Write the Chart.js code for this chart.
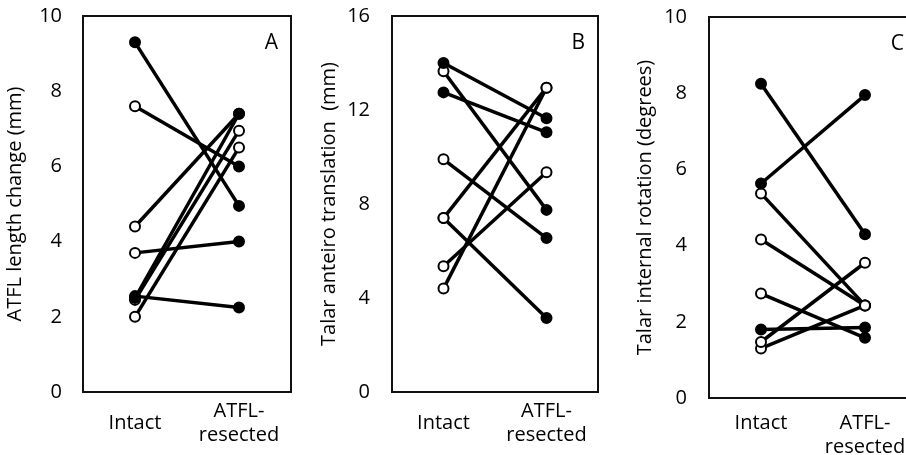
<!DOCTYPE html>
<html><head><meta charset="utf-8">
<script src="https://cdn.jsdelivr.net/npm/chart.js@4.4.1/dist/chart.umd.min.js"></script>
<style>
html,body{margin:0;padding:0;background:#fff;overflow:hidden;width:906px;height:455px;position:relative;}
canvas{position:absolute;top:0;}
</style></head><body>
<canvas id="cA" width="300" height="455" style="left:0px"></canvas>
<canvas id="cB" width="300" height="455" style="left:310px"></canvas>
<canvas id="cC" width="286" height="455" style="left:620px"></canvas>
<script>
// ---- data ----
const categories = ['Intact', ['ATFL-', 'resected']];

// Panel A: ATFL length change (mm)
const atflIntact        = [9.3, 7.6, 4.4, 3.7, 2.55, 2.5, 2.45, 2.0];
const atflResected      = [4.95, 6.0, 7.4, 4.0, 2.25, 7.4, 6.95, 6.5];
const atflIntactFilled  = [1, 0, 0, 0, 1, 1, 0, 0];
const atflResectFilled  = [1, 1, 1, 1, 1, 1, 0, 0];
const atflTicks = {max: 10, step: 2};

// Panel B: Talar anterior translation (mm)
const transIntact       = [14.0, 13.65, 12.75, 9.9, 7.4, 7.4, 5.35, 4.4];
const transResected     = [11.65, 7.75, 11.05, 6.55, 12.95, 3.15, 9.35, 12.95];
const transIntactFilled = [1, 0, 1, 0, 0, 0, 0, 0];
const transResectFilled = [1, 1, 1, 1, 0, 1, 0, 0];
const transTicks = {max: 16, step: 4};

// Panel C: Talar internal rotation (degrees)
const rotIntact         = [8.25, 5.63, 5.37, 4.16, 2.74, 1.8, 1.47, 1.3];
const rotResected       = [4.3, 7.95, 2.43, 2.43, 1.58, 1.85, 3.55, 2.43];
const rotIntactFilled   = [1, 1, 0, 0, 0, 1, 0, 0];
const rotResectFilled   = [1, 1, 0, 0, 1, 1, 0, 0];
const rotTicks = {max: 10, step: 2};

const FONT = '"Open Sans"';
const FS = 20;
const INK = '#000';

function boxPlugin(letter, dx, dy, forceRight) {
  return {
    id: 'box' + letter,
    afterLayout(chart) {
      if (forceRight == null) return;
      const a = chart.chartArea;
      a.right = forceRight;
      a.width = a.right - a.left;
      const x = chart.scales.x;
      x.right = forceRight;
      x.width = x.right - x.left;
      x.configure();
    },
    afterDraw(chart) {
      const {ctx, chartArea: a} = chart;
      ctx.save();
      ctx.strokeStyle = '#111';
      ctx.lineWidth = 2;
      ctx.beginPath();
      if (forceRight == null) {
        ctx.rect(a.left, a.top, a.right - a.left, a.bottom - a.top);
      } else {
        // right edge lies outside the picture: draw the visible sides only
        ctx.moveTo(chart.width + 2, a.top);
        ctx.lineTo(a.left, a.top);
        ctx.lineTo(a.left, a.bottom);
        ctx.lineTo(chart.width + 2, a.bottom);
      }
      ctx.stroke();
      ctx.fillStyle = INK;
      ctx.font = '21px ' + FONT;
      ctx.textAlign = 'right';
      ctx.textBaseline = 'middle';
      ctx.fillText(letter, a.right - dx, a.top + dy);
      ctx.restore();
    }
  };
}

function makePanel(id, p) {
  const datasets = p.intact.map((v, i) => ({
    data: [v, p.resected[i]],
    borderColor: '#000',
    borderWidth: 3.5,
    pointRadius: 5,
    pointHoverRadius: 5,
    pointBorderWidth: 2,
    pointBorderColor: '#000',
    pointBackgroundColor: [p.iFill[i] ? '#000' : '#fff', p.rFill[i] ? '#000' : '#fff'],
    tension: 0,
    fill: false
  }));
  new Chart(document.getElementById(id), {
    type: 'line',
    data: {labels: categories, datasets},
    options: {
      responsive: false,
      animation: false,
      devicePixelRatio: 1,
      layout: {padding: {top: p.padTop, right: p.padRight, left: 0, bottom: 0}},
      plugins: {legend: {display: false}, tooltip: {enabled: false}},
      scales: {
        x: {
          type: 'category',
          offset: true,
          grid: {display: false, drawTicks: false},
          border: {display: false},
          ticks: {
            color: INK, padding: p.xPad, crossAlign: p.cross, maxRotation: 0, autoSkip: false,
            font: {family: FONT, size: FS, lineHeight: 1.2}
          },
          afterFit(s) { s.height = p.xHeight; s.paddingLeft = 0; s.paddingRight = 0; }
        },
        y: {
          min: 0, max: p.ticks.max,
          grid: {display: false, drawTicks: false},
          border: {display: false},
          ticks: {
            stepSize: p.ticks.step, color: INK, padding: p.yPad,
            font: {family: FONT, size: FS}
          },
          title: {
            display: true, text: p.title, color: INK,
            padding: {top: p.titlePad, bottom: 0},
            font: {family: FONT, size: FS, lineHeight: 1.2}
          },
          afterFit(s) { s.width = p.axisWidth; s.paddingTop = 0; s.paddingBottom = 0; }
        }
      }
    },
    plugins: [boxPlugin(p.letter, 13, 27, p.forceRight)]
  });
}

makePanel('cA', {
  intact: atflIntact, resected: atflResected, iFill: atflIntactFilled, rFill: atflResectFilled,
  ticks: atflTicks, title: 'ATFL length change (mm)', letter: 'A',
  axisWidth: 83, padTop: 16, padRight: 9, xHeight: 63, titlePad: 3, yPad: 21, xPad: 19, cross: 'center'
});
makePanel('cB', {
  intact: transIntact, resected: transResected, iFill: transIntactFilled, rFill: transResectFilled,
  ticks: transTicks, title: 'Talar anteiro translation  (mm)', letter: 'B',
  axisWidth: 82, padTop: 16, padRight: 12, xHeight: 63, titlePad: 7, yPad: 22, xPad: 19, cross: 'center'
});
makePanel('cC', {
  intact: rotIntact, resected: rotResected, iFill: rotIntactFilled, rFill: rotResectFilled,
  ticks: rotTicks, title: 'Talar internal rotation (degrees)', letter: 'C',
  axisWidth: 89, padTop: 17, padRight: 0, forceRight: 297, xHeight: 57, titlePad: 13, yPad: 22, xPad: 13, cross: 'near'
});
</script>
</body></html>
